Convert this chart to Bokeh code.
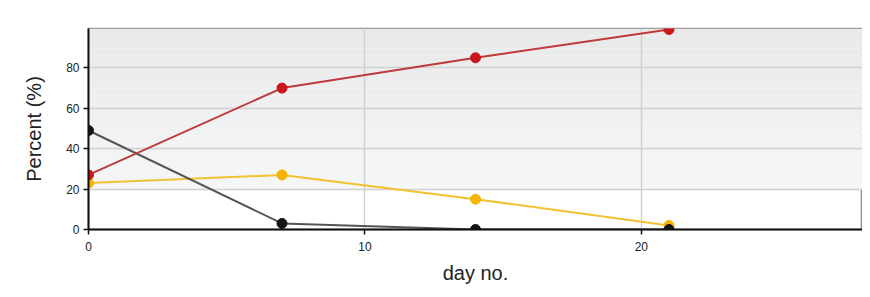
from bokeh.plotting import figure
from bokeh.models import ColumnDataSource, Range1d, FixedTicker, BoxAnnotation
from bokeh.embed import file_html
from bokeh.resources import INLINE

days = [0, 7, 14, 21]
red_vals = [27, 70, 85, 99]
black_vals = [49, 3, 0, 0]
yellow_vals = [23, 27, 15, 2]
x_ticks = [0, 10, 20]
y_ticks = [0, 20, 40, 60, 80]

W, H = 862, 289
p = figure(width=W, height=H, output_backend="svg", toolbar_location=None,
           x_range=Range1d(0, 28), y_range=Range1d(0, 99.5),
           min_border_left=88, min_border_right=0, min_border_top=28, min_border_bottom=60)
p.border_fill_color = "white"
p.background_fill_color = "white"
p.outline_line_color = "#8a8a8a"
p.outline_line_width = 1.5

# background gradient bands (decoration)
n = 24
lo, hi = 20.0, 99.5
for i in range(n):
    b = lo + (hi - lo) * i / n
    t = lo + (hi - lo) * (i + 1) / n
    f = i / (n - 1)
    c0 = (244, 246, 248)
    c1 = (233, 233, 233)
    col = "#%02x%02x%02x" % tuple(int(round(a + (bb - a) * f)) for a, bb in zip(c0, c1))
    p.add_layout(BoxAnnotation(bottom=b, top=t, fill_color=col, fill_alpha=1.0,
                               line_color=None, level="image"))

# page frame decoration (lavender strip + dark panel edge)
def cbox(l, r, t, b, color):
    return BoxAnnotation(left=l, right=r, top=t, bottom=b,
                         left_units="canvas", right_units="canvas",
                         top_units="canvas", bottom_units="canvas",
                         fill_color=color, fill_alpha=1.0, line_color=None, level="overlay")

p.add_layout(cbox(0, 4, 0, H, "#bdc3df"))
p.add_layout(cbox(0, W, 0, 4, "#bdc3df"))
p.add_layout(cbox(4, 6, 4, H, "#3a3a3a"))
p.add_layout(cbox(4, W, 4, 6, "#3a3a3a"))

p.xgrid.ticker = FixedTicker(ticks=x_ticks)
p.ygrid.ticker = FixedTicker(ticks=y_ticks)
p.xaxis.ticker = FixedTicker(ticks=x_ticks)
p.yaxis.ticker = FixedTicker(ticks=y_ticks)
for g in (p.xgrid, p.ygrid):
    g.grid_line_color = "#d0d0d0"
    g.grid_line_width = 1.5
    g.level = "underlay"

for ax in (p.xaxis, p.yaxis):
    ax.axis_line_color = "#111111"
    ax.axis_line_width = 2
    ax.major_tick_line_color = "#111111"
    ax.major_tick_line_width = 1.5
    ax.major_tick_out = 5
    ax.major_tick_in = 0
    ax.minor_tick_line_color = None
    ax.major_label_text_font = "Liberation Sans"
    ax.major_label_text_font_size = "12px"
    ax.major_label_text_color = "#222222"
    ax.axis_label_text_font = "Liberation Sans"
    ax.axis_label_text_font_style = "normal"
    ax.axis_label_text_color = "#222222"

p.xaxis.axis_label = "day no."
p.yaxis.axis_label = "Percent (%)"
p.xaxis.axis_label_text_font_size = "20px"
p.yaxis.axis_label_text_font_size = "20px"
p.xaxis.major_label_standoff = 7
p.xaxis.axis_label_standoff = 8
p.yaxis.major_label_standoff = 4
p.yaxis.axis_label_standoff = 18

src = ColumnDataSource(dict(x=days, r=red_vals, k=black_vals, y=yellow_vals))

p.line("x", "y", source=src, line_color="#f2c230", line_width=2)
p.scatter("x", "y", source=src, size=10, fill_color="#f5b400", line_color="#f5b400")
p.line("x", "k", source=src, line_color="#555555", line_width=2)
p.scatter("x", "k", source=src, size=10, fill_color="#151515", line_color="#151515")
p.line("x", "r", source=src, line_color="#c0393b", line_width=2)
p.scatter("x", "r", source=src, size=10, fill_color="#c8181c", line_color="#c8181c")

open("out.html", "w").write(file_html(p, INLINE))
